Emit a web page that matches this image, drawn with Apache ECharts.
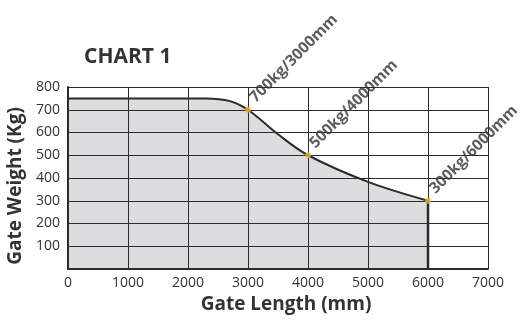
<!DOCTYPE html>
<html>
<head>
<meta charset="utf-8">
<script src="https://cdn.jsdelivr.net/npm/echarts@6/dist/echarts.min.js"></script>
<style>
html,body{margin:0;padding:0;background:#fff;}
#chart{width:526px;height:336px;}
</style>
</head>
<body>
<div id="chart"></div>
<script>
// Gate weight curve (length in mm, weight in kg)
var curveLength = [0, 2300, 2700, 3000, 3500, 4000, 5000, 6000];
var curveWeight = [750, 750, 738, 700, 592, 500, 383, 300];

// Rated points marked on the curve
var ratedLength = [3000, 4000, 6000];
var ratedWeight = [700, 500, 300];
var ratedLabels = ['700kg/3000mm', '500kg/4000mm', '300kg/6000mm'];

// Closing edge of the shaded area at the longest gate
var edgeLength = [6000, 6000];
var edgeWeight = [300, 0];

var xTicks = [0, 1000, 2000, 3000, 4000, 5000, 6000, 7000];
var yTicks = [100, 200, 300, 400, 500, 600, 700, 800];

function pairs(xs, ys) {
  return xs.map(function (x, i) { return [x, ys[i]]; });
}

var font = '"Open Sans", "Noto Sans", sans-serif';
var ink = '#2b2b2b';

var chart = echarts.init(document.getElementById('chart'));
chart.setOption({
  animation: false,
  title: {
    text: 'CHART 1',
    left: 79,
    top: 42,
    textStyle: { fontFamily: font, fontSize: 21, fontWeight: 'bold', color: '#333' }
  },
  grid: { left: 68, right: 38, top: 87, bottom: 67, containLabel: false, outerBoundsMode: 'none' },
  xAxis: {
    type: 'value',
    z: 10,
    min: xTicks[0],
    max: xTicks[xTicks.length - 1],
    interval: 1000,
    name: 'Gate Length (mm)',
    nameLocation: 'middle',
    nameGap: 21,
    nameTextStyle: {
      fontFamily: font, fontSize: 19, fontWeight: 'bold', color: '#333',
      padding: [0, 0, 0, 16]
    },
    axisLine: { show: true, lineStyle: { color: ink, width: 2 } },
    axisTick: { show: false },
    axisLabel: {
      fontFamily: font, fontSize: 14, color: '#333', margin: 7,
      formatter: function (v) { return String(v); }
    },
    splitLine: { show: true, lineStyle: { color: ink, width: 1 } }
  },
  yAxis: {
    type: 'value',
    z: 10,
    min: 0,
    max: yTicks[yTicks.length - 1],
    interval: 100,
    name: 'Gate Weight (Kg)',
    nameLocation: 'middle',
    nameGap: 30,
    nameTextStyle: {
      fontFamily: font, fontSize: 19, fontWeight: 'bold', color: '#333',
      padding: [0, 16, 0, 0]
    },
    axisLine: { show: true, lineStyle: { color: ink, width: 2 } },
    axisTick: { show: false },
    axisLabel: {
      fontFamily: font, fontSize: 14, color: '#333', margin: 8,
      formatter: function (v) { return v === 0 ? '' : String(v); }
    },
    splitLine: { show: true, lineStyle: { color: ink, width: 1 } }
  },
  series: [
    {
      type: 'line',
      data: pairs(curveLength, curveWeight),
      smooth: 0.35,
      showSymbol: false,
      lineStyle: { color: ink, width: 2 },
      areaStyle: { color: '#dcdddf', opacity: 1 },
      z: 3
    },
    {
      type: 'line',
      data: pairs(edgeLength, edgeWeight),
      showSymbol: false,
      lineStyle: { color: ink, width: 2.5 },
      z: 4
    },
    {
      type: 'scatter',
      data: pairs(ratedLength, ratedWeight),
      symbolSize: 6,
      itemStyle: { color: '#f3b23a' },
      z: 15,
      label: {
        show: true,
        position: [13, -1],
        align: 'left',
        verticalAlign: 'bottom',
        rotate: 45,
        fontFamily: font,
        fontSize: 15.5,
        fontWeight: 'bold',
        color: '#333',
        formatter: function (p) { return ratedLabels[p.dataIndex]; }
      }
    }
  ]
});
</script>
</body>
</html>
